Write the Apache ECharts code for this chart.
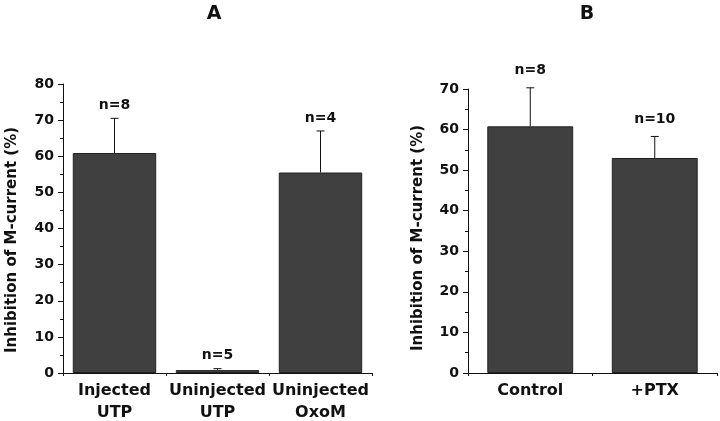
<!DOCTYPE html>
<html>
<head>
<meta charset="utf-8">
<script src="https://cdn.jsdelivr.net/npm/echarts@6/dist/echarts.min.js"></script>
<style>html,body{margin:0;padding:0;background:#fff}#c{width:720px;height:421px}</style>
</head>
<body>
<div id="c"></div>
<script>
// Panel A
const catsA = ['Injected\nUTP', 'Uninjected\nUTP', 'Uninjected\nOxoM'];
const meanA = [60.9, 0.8, 55.5];
const semA = [9.6, 0.4, 11.5];
const nA = ['n=8', 'n=5', 'n=4'];
const yTicksA = { min: 0, max: 80, interval: 10 };
// Panel B
const catsB = ['Control', '+PTX'];
const meanB = [60.8, 53.0];
const semB = [9.5, 5.3];
const nB = ['n=8', 'n=10'];
const yTicksB = { min: 0, max: 70, interval: 10 };
const yName = 'Inhibition of M-current (%)';
const panelTitles = ['A', 'B'];

const FONT = '"DejaVu Sans", sans-serif';
const INK = '#111';
const BAR = '#404040';

function errRender(means, sems, labels, gap) {
  return function (params, api) {
    const i = api.value(0);
    const base = api.coord([i, means[i]]);
    const top = api.coord([i, means[i] + sems[i]]);
    return {
      type: 'group',
      children: [
        { type: 'line', shape: { x1: base[0], y1: base[1], x2: top[0], y2: top[1] }, style: { stroke: INK, lineWidth: 1 } },
        { type: 'line', shape: { x1: top[0] - 4, y1: top[1], x2: top[0] + 4, y2: top[1] }, style: { stroke: INK, lineWidth: 1 } },
        { type: 'text', x: top[0], y: top[1] - gap, style: { text: labels[i], font: 'bold 14px ' + FONT, fill: INK, align: 'center', verticalAlign: 'middle' } }
      ]
    };
  };
}

function yAxis(grid, t) {
  return {
    type: 'value', gridIndex: grid, min: t.min, max: t.max, interval: t.interval,
    axisLine: { show: true, lineStyle: { color: INK, width: 1 } },
    axisTick: { show: true, length: 5, lineStyle: { color: INK } },
    minorTick: { show: true, splitNumber: 2, length: 3, lineStyle: { color: INK } },
    splitLine: { show: false },
    axisLabel: { color: INK, fontFamily: FONT, fontWeight: 'bold', fontSize: 14, margin: 9 }
  };
}
function xAxis(grid, cats) {
  return {
    type: 'category', gridIndex: grid, data: cats,
    axisLine: { show: true, lineStyle: { color: INK, width: 1 } },
    axisTick: { show: true, length: 3, alignWithLabel: false, lineStyle: { color: INK } },
    axisLabel: { interval: 0, color: INK, fontFamily: FONT, fontWeight: 'bold', fontSize: 16, lineHeight: 22, margin: 7 }
  };
}

const chart = echarts.init(document.getElementById('c'), null, { renderer: 'canvas' });
chart.setOption({
  animation: false,
  backgroundColor: '#fff',
  grid: [
    { left: 63, top: 84, width: 309, bottom: 48, outerBoundsMode: 'none', containLabel: false },
    { left: 468, top: 89, right: 3, bottom: 48, outerBoundsMode: 'none', containLabel: false }
  ],
  xAxis: [xAxis(0, catsA), xAxis(1, catsB)],
  yAxis: [yAxis(0, yTicksA), yAxis(1, yTicksB)],
  graphic: [
    { type: 'text', x: 214, y: 14, style: { text: panelTitles[0], font: 'bold 19px ' + FONT, fill: INK, align: 'center', verticalAlign: 'middle' } },
    { type: 'text', x: 587, y: 14, style: { text: panelTitles[1], font: 'bold 19px ' + FONT, fill: INK, align: 'center', verticalAlign: 'middle' } },
    { type: 'text', x: 12, y: 240, rotation: Math.PI / 2, style: { text: yName, font: 'bold 15px ' + FONT, fill: INK, align: 'center', verticalAlign: 'middle' } },
    { type: 'text', x: 418, y: 238, rotation: Math.PI / 2, style: { text: yName, font: 'bold 15px ' + FONT, fill: INK, align: 'center', verticalAlign: 'middle' } }
  ],
  series: [
    { type: 'bar', xAxisIndex: 0, yAxisIndex: 0, data: meanA, barCategoryGap: '19%',
      itemStyle: { color: BAR, borderColor: '#222', borderWidth: 1 } },
    { type: 'custom', xAxisIndex: 0, yAxisIndex: 0, data: meanA.map((m, i) => [i, m + semA[i]]),
      renderItem: errRender(meanA, semA, nA, 13), z: 5 },
    { type: 'bar', xAxisIndex: 1, yAxisIndex: 1, data: meanB, barCategoryGap: '31%',
      itemStyle: { color: BAR, borderColor: '#222', borderWidth: 1 } },
    { type: 'custom', xAxisIndex: 1, yAxisIndex: 1, data: meanB.map((m, i) => [i, m + semB[i]]),
      renderItem: errRender(meanB, semB, nB, 17), z: 5 }
  ]
});
</script>
</body>
</html>
